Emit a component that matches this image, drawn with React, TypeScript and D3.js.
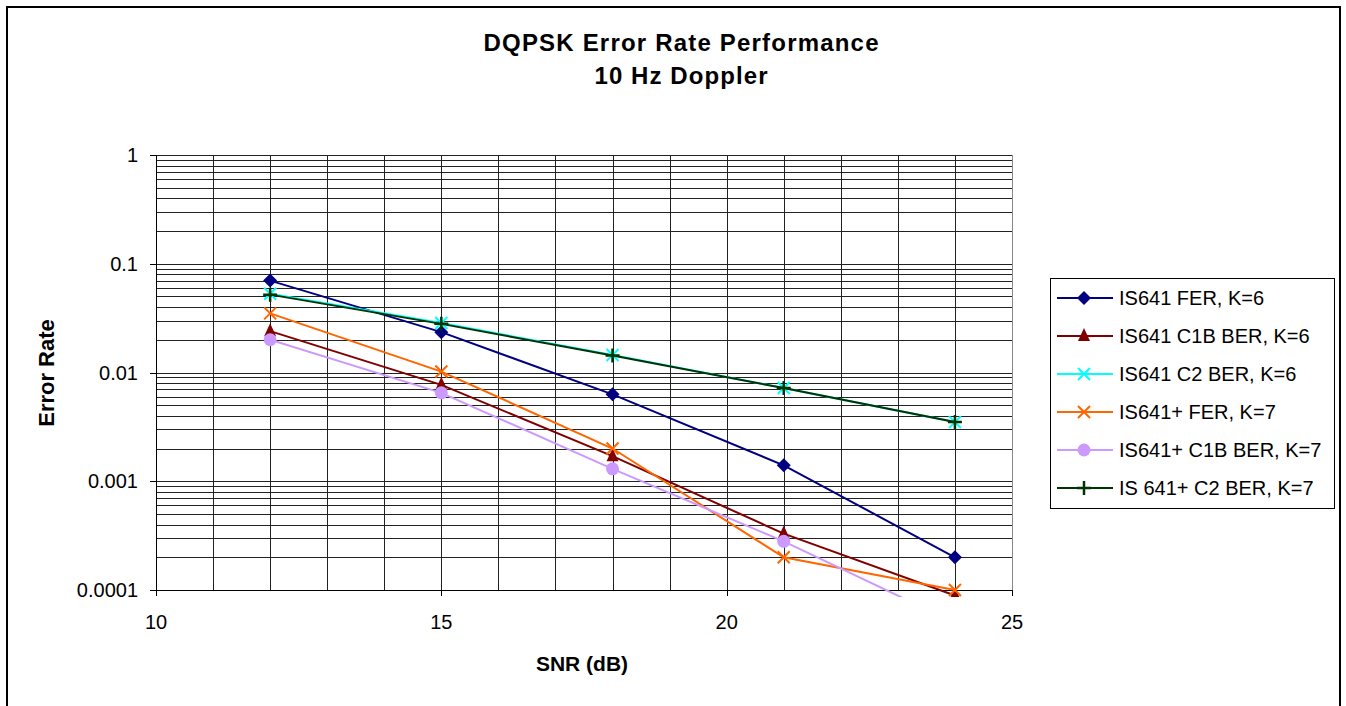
import * as d3 from "d3";
import { useEffect, useRef } from "react";

// SNR (dB) values shared by every series
const snr = [12, 15, 18, 21, 24];

const seriesNames = [
  "IS641 FER, K=6",
  "IS641 C1B BER, K=6",
  "IS641 C2 BER, K=6",
  "IS641+ FER, K=7",
  "IS641+ C1B BER, K=7",
  "IS 641+ C2 BER, K=7",
];

const is641Fer = [0.07, 0.0235, 0.0063, 0.0014, 0.0002];
const is641C1b = [0.024, 0.0077, 0.0017, 0.00033, 0.000089];
const is641C2 = [0.053, 0.0285, 0.0145, 0.0072, 0.0035];
const plusFer = [0.035, 0.0102, 0.002, 0.0002, 0.0001];
const plusC1b = [0.02, 0.0065, 0.0013, 0.00028, 0.00005];
const plusC2 = [0.052, 0.028, 0.0143, 0.0072, 0.0035];

const seriesValues = [is641Fer, is641C1b, is641C2, plusFer, plusC1b, plusC2];
const seriesColors = ["#000080", "#800000", "#00ffff", "#ff6600", "#cc99ff", "#003300"];
const seriesMarkers = ["diamond", "triangle", "x", "x", "circle", "plus"];

const yTicks = [1, 0.1, 0.01, 0.001, 0.0001];
const yTickLabels = ["1", "0.1", "0.01", "0.001", "0.0001"];
const xTicks = [10, 15, 20, 25];

const App = () => {
  const svgRef = useRef(null);

  useEffect(() => {
    const svg = d3.select(svgRef.current);
    svg.selectAll("*").remove();

    const width = 1346;
    const height = 706;
    const font = "'Liberation Sans', Arial, sans-serif";
    svg.attr("width", width).attr("height", height);

    // marco exterior
    svg.append("rect")
      .attr("x", 7).attr("y", 7)
      .attr("width", 1333).attr("height", 720)
      .attr("fill", "#fff").attr("stroke", "#000").attr("stroke-width", 2);

    const left = 156, right = 1012, top = 155, bottom = 590;
    const x = d3.scaleLinear().domain([10, 25]).range([left, right]);
    const y = d3.scaleLog().domain([0.0001, 1]).range([bottom, top]);

    // rejilla
    const grid = svg.append("g").attr("shape-rendering", "crispEdges");
    const minor = [];
    for (let e = -4; e < 0; e++) {
      for (let m = 1; m < 10; m++) minor.push(m * Math.pow(10, e));
    }
    minor.push(1);
    grid.selectAll("line.h").data(minor).enter().append("line")
      .attr("x1", left).attr("x2", right)
      .attr("y1", (d) => Math.round(y(d)) + 0.5).attr("y2", (d) => Math.round(y(d)) + 0.5)
      .attr("stroke", "#222").attr("stroke-width", 1);
    grid.selectAll("line.v").data(d3.range(11, 26)).enter().append("line")
      .attr("y1", top).attr("y2", bottom)
      .attr("x1", (d) => Math.round(x(d)) + 0.5).attr("x2", (d) => Math.round(x(d)) + 0.5)
      .attr("stroke", (d) => (d === 25 ? "#888" : "#222")).attr("stroke-width", 1);

    // ejes
    grid.append("line").attr("x1", left + 0.5).attr("x2", left + 0.5)
      .attr("y1", top).attr("y2", bottom).attr("stroke", "#000");
    grid.append("line").attr("x1", left).attr("x2", right)
      .attr("y1", bottom + 0.5).attr("y2", bottom + 0.5).attr("stroke", "#000");
    grid.selectAll("line.yt").data(yTicks).enter().append("line")
      .attr("x1", left - 6).attr("x2", left)
      .attr("y1", (d) => Math.round(y(d)) + 0.5).attr("y2", (d) => Math.round(y(d)) + 0.5)
      .attr("stroke", "#000");
    grid.selectAll("line.xt").data(xTicks).enter().append("line")
      .attr("y1", bottom).attr("y2", bottom + 6)
      .attr("x1", (d) => Math.round(x(d)) + 0.5).attr("x2", (d) => Math.round(x(d)) + 0.5)
      .attr("stroke", "#000");

    svg.selectAll("text.yl").data(yTicks).enter().append("text")
      .attr("x", 138).attr("y", (d) => y(d) + 7)
      .attr("text-anchor", "end").attr("font-family", font).attr("font-size", 20)
      .text((d, i) => yTickLabels[i]);
    svg.selectAll("text.xl").data(xTicks).enter().append("text")
      .attr("x", (d) => x(d)).attr("y", 629)
      .attr("text-anchor", "middle").attr("font-family", font).attr("font-size", 20)
      .text((d) => d);

    // títulos
    svg.append("text").attr("x", 681).attr("y", 51).attr("text-anchor", "middle")
      .attr("font-family", font).attr("font-size", 24).attr("font-weight", "bold")
      .attr("textLength", 395).attr("lengthAdjust", "spacing")
      .text("DQPSK Error Rate Performance");
    svg.append("text").attr("x", 681).attr("y", 84).attr("text-anchor", "middle")
      .attr("font-family", font).attr("font-size", 24).attr("font-weight", "bold")
      .attr("textLength", 173).attr("lengthAdjust", "spacing")
      .text("10 Hz Doppler");
    svg.append("text").attr("x", 582).attr("y", 671).attr("text-anchor", "middle")
      .attr("font-family", font).attr("font-size", 21).attr("font-weight", "bold")
      .text("SNR (dB)");
    svg.append("text")
      .attr("transform", "translate(54,373) rotate(-90)")
      .attr("text-anchor", "middle")
      .attr("font-family", font).attr("font-size", 22).attr("font-weight", "bold")
      .text("Error Rate");

    const drawMarker = (g, type, color, cx, cy) => {
      if (type === "diamond") {
        g.append("path").attr("d", `M${cx},${cy - 7}L${cx + 7},${cy}L${cx},${cy + 7}L${cx - 7},${cy}Z`)
          .attr("fill", color);
      } else if (type === "triangle") {
        g.append("path").attr("d", `M${cx},${cy - 8}L${cx + 6},${cy + 5}L${cx - 6},${cy + 5}Z`)
          .attr("fill", color);
      } else if (type === "circle") {
        g.append("circle").attr("cx", cx).attr("cy", cy).attr("r", 6.5).attr("fill", color);
      } else if (type === "x") {
        g.append("path").attr("d", `M${cx - 6},${cy - 6}L${cx + 6},${cy + 6}M${cx - 6},${cy + 6}L${cx + 6},${cy - 6}`)
          .attr("stroke", color).attr("stroke-width", 2);
      } else if (type === "plus") {
        g.append("path").attr("d", `M${cx - 7},${cy}L${cx + 7},${cy}M${cx},${cy - 7}L${cx},${cy + 7}`)
          .attr("stroke", color).attr("stroke-width", 2.5);
      }
    };

    svg.append("clipPath").attr("id", "plotClip").append("rect")
      .attr("x", left).attr("y", top - 10).attr("width", right - left + 10).attr("height", bottom - top + 17);

    const line = d3.line().x((d) => x(d[0])).y((d) => y(d[1]));
    const plot = svg.append("g").attr("clip-path", "url(#plotClip)");
    seriesValues.forEach((vals, i) => {
      const pts = snr.map((s, j) => [s, vals[j]]);
      const g = plot.append("g");
      g.append("path").attr("d", line(pts)).attr("fill", "none")
        .attr("stroke", seriesColors[i]).attr("stroke-width", 2);
      pts.forEach((p) => {
        const py = y(p[1]);
        if (py <= bottom + 6) drawMarker(g, seriesMarkers[i], seriesColors[i], x(p[0]), py);
      });
    });

    // leyenda
    const lg = svg.append("g");
    lg.append("rect").attr("x", 1050.5).attr("y", 278.5).attr("width", 284).attr("height", 230)
      .attr("fill", "#fff").attr("stroke", "#000").attr("stroke-width", 1);
    seriesNames.forEach((name, i) => {
      const ly = 298 + i * 38;
      lg.append("line").attr("x1", 1057).attr("x2", 1113).attr("y1", ly).attr("y2", ly)
        .attr("stroke", seriesColors[i]).attr("stroke-width", 2);
      drawMarker(lg, seriesMarkers[i], seriesColors[i], 1084, ly);
      lg.append("text").attr("x", 1119).attr("y", ly + 7)
        .attr("font-family", font).attr("font-size", 20).text(name);
    });
  }, []);

  return <svg ref={svgRef} style={{ position: "absolute", left: 0, top: 0 }}></svg>;
};

export default App;
